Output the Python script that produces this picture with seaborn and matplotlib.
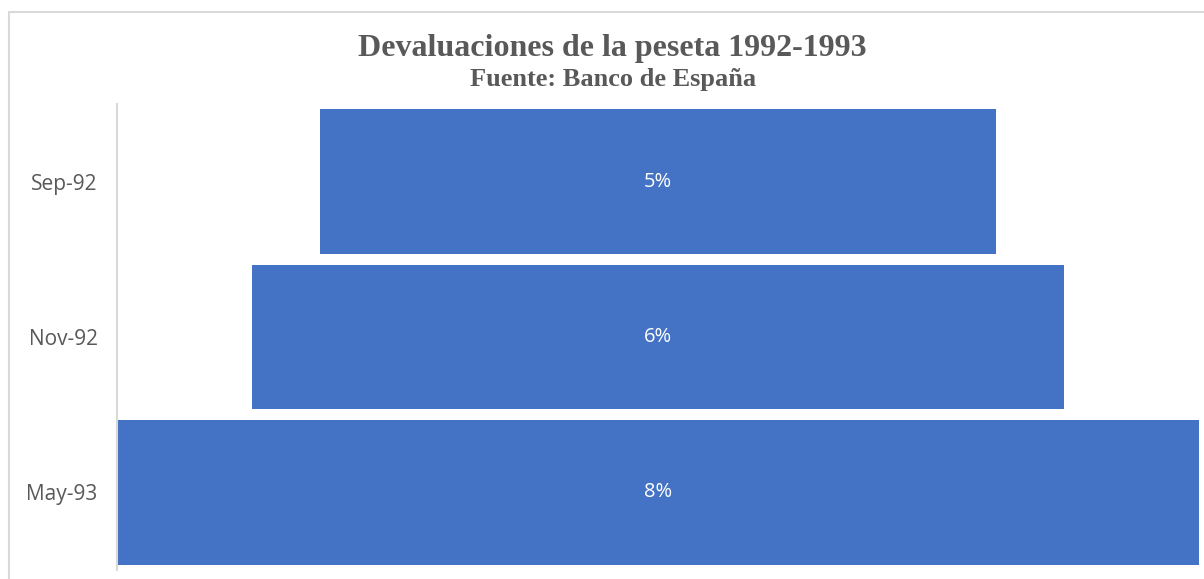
import matplotlib
matplotlib.use('Agg')
import matplotlib.pyplot as plt
import seaborn as sns
from matplotlib.patches import Rectangle

periodos = ['Sep-92', 'Nov-92', 'May-93']
devaluacion = [5, 6, 8]
etiquetas = [f'{v}%' for v in devaluacion]

AZUL = '#4472C4'
GRIS_TEXTO = '#595959'
GRIS_LINEA = '#D9D9D9'

sns.set_theme(style='white')
plt.rcParams['font.family'] = ['Open Sans', 'DejaVu Sans']

W, H = 1204, 579
fig = plt.figure(figsize=(W / 100, H / 100), dpi=100)

# marco del grafico (solo visible arriba y a la izquierda)
fig.patches.append(Rectangle((8.5 / W, -0.1), 1.2, 1 - 12.5 / H + 0.1,
                             transform=fig.transFigure, fill=False,
                             edgecolor=GRIS_LINEA, linewidth=1.5))

ax = fig.add_axes([117 / W, 1 - 570 / H, (1199 - 117) / W, (570 - 104) / H])

# embudo: cada barra centrada respecto a la mayor
maximo = max(devaluacion)
desplaz = [(maximo - v) / 2 for v in devaluacion]

sns.barplot(x=devaluacion, y=periodos, orient='y', color=AZUL, saturation=1,
            width=0.93, left=desplaz, linewidth=0, edgecolor='none', ax=ax)

ax.bar_label(ax.containers[0], labels=etiquetas, label_type='center',
             color='white', fontsize=14.5)

ax.set_xlim(0, maximo)
ax.set_ylim(2.5, -0.5)
ax.set_xlabel('')
ax.set_ylabel('')
ax.set_xticks([])
ax.tick_params(axis='y', length=0, pad=14, labelsize=15, labelcolor=GRIS_TEXTO)
for s in ['top', 'right', 'bottom']:
    ax.spines[s].set_visible(False)
ax.spines['left'].set_color(GRIS_LINEA)
ax.spines['left'].set_linewidth(1.5)

fig.text(612 / W, 1 - 55.7 / H, 'Devaluaciones de la peseta 1992-1993',
         ha='center', va='baseline', fontsize=23, fontweight='bold',
         color=GRIS_TEXTO, family=['Liberation Serif', 'DejaVu Serif'])
fig.text(613 / W, 1 - 86 / H, 'Fuente: Banco de España',
         ha='center', va='baseline', fontsize=19, fontweight='bold',
         color=GRIS_TEXTO, family=['Liberation Serif', 'DejaVu Serif'])

fig.savefig('out.png', dpi=100)
